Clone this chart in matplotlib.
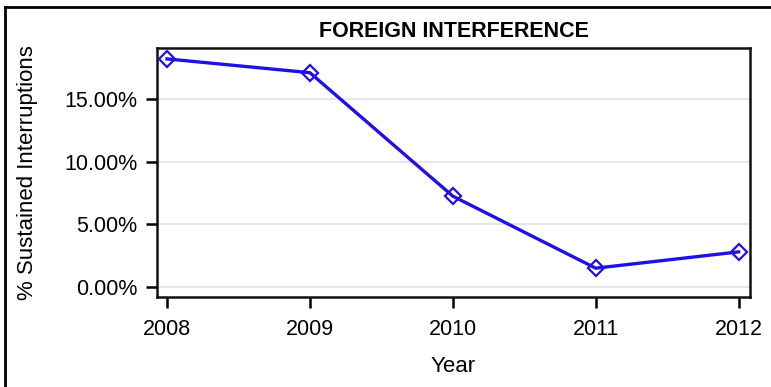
import matplotlib
matplotlib.use("Agg")
import matplotlib.pyplot as plt
from matplotlib.lines import Line2D
from matplotlib.ticker import FuncFormatter

# ── data ────────────────────────────────────────────────────────
years = [2008, 2009, 2010, 2011, 2012]
pct_sustained = [18.2, 17.1, 7.25, 1.5, 2.8]
y_ticks = [0, 5, 10, 15]

LINE = "#1f10e6"
GRID = "#e6e6ea"

plt.rcParams.update({
    "font.family": ["Liberation Sans", "DejaVu Sans"],
    "font.size": 15.5,
})

fig = plt.figure(figsize=(7.71, 3.87), dpi=100)
W, H = 771, 387
ax = fig.add_axes([157 / W, 1 - 297 / H, (750 - 157) / W, (297 - 48) / H])

ax.plot(years, pct_sustained, color=LINE, lw=2.4, marker="D", ms=8,
        mfc="none", mec=LINE, mew=1.6, zorder=3)

ax.set_xlim(2007.93, 2012.08)
ax.set_ylim(-0.8, 19.07)
ax.set_xticks(years)
ax.set_yticks(y_ticks)
ax.yaxis.set_major_formatter(FuncFormatter(lambda v, _: f"{v:.2f}%"))
ax.grid(axis="y", color=GRID, lw=1.5)
ax.set_axisbelow(True)

for s in ax.spines.values():
    s.set_linewidth(1.8)
    s.set_color("#111111")
ax.tick_params(axis="both", direction="out", length=8, width=1.8,
               labelsize=15.5)
ax.tick_params(axis="y", pad=6)
ax.tick_params(axis="x", pad=8)

ax.set_title("FOREIGN INTERFERENCE", fontsize=15.5, fontweight="bold", pad=8)
ax.set_xlabel("Year", fontsize=16)
ax.set_ylabel("% Sustained Interruptions", fontsize=16)
ax.xaxis.set_label_coords(0.5, -0.235)
ax.yaxis.set_label_coords(-0.2, 0.5)

# outer frame (left and top edges visible in the crop)
fig.add_artist(Line2D([5 / W, 5 / W], [0, 1 - 7 / H], color="black", lw=2,
                      transform=fig.transFigure))
fig.add_artist(Line2D([5 / W, 1], [1 - 7 / H, 1 - 7 / H], color="black", lw=2,
                      transform=fig.transFigure))

fig.savefig("out.png", dpi=100)
